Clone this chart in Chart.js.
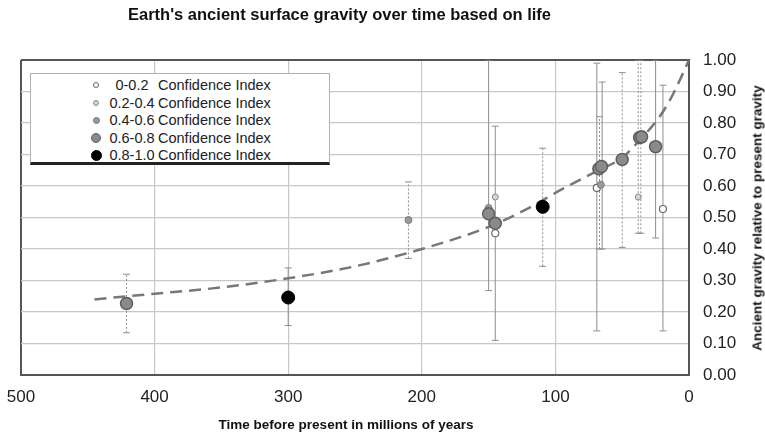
<!DOCTYPE html>
<html>
<head>
<meta charset="utf-8">
<title>Earth's ancient surface gravity</title>
<script src="https://cdn.jsdelivr.net/npm/chart.js@4.4.1/dist/chart.umd.min.js"></script>
<style>
  html, body { margin: 0; padding: 0; background: #fff; }
  #wrap { position: relative; width: 765px; height: 435px; font-family: "Liberation Sans", Arial, sans-serif; color: #111; }
  #title { position: absolute; left: 128px; top: 5px; font-size: 16.5px; font-weight: bold; white-space: nowrap; }
  #xtitle { position: absolute; left: 346px; top: 424px; transform: translate(-50%, -50%); font-size: 13.5px; font-weight: bold; white-space: nowrap; }
  #ytitle { position: absolute; left: 757px; top: 218px; transform: translate(-50%, -50%) rotate(-90deg); font-size: 13.5px; font-weight: bold; white-space: nowrap; }
  #legend { position: absolute; left: 30px; top: 73px; width: 300px; height: 92px; background: #fff; border: 1px solid #b0b0b0; border-bottom: 3px solid #222; box-sizing: border-box; }
  .row { position: absolute; left: 0; height: 18px; line-height: 18px; font-size: 14.5px; color: #222; white-space: nowrap; }
  .dot { position: absolute; border-radius: 50%; box-sizing: border-box; }
  .range { position: absolute; left: 76px; width: 50px; text-align: center; }
  .ci { position: absolute; left: 127px; }
</style>
</head>
<body>
<div id="wrap">
  <canvas id="chart" width="765" height="435"></canvas>
  <div id="title">Earth's ancient surface gravity over time based on life</div>
  <div id="xtitle">Time before present in millions of years</div>
  <div id="ytitle">Ancient gravity relative to present gravity</div>
  <div id="legend"></div>
</div>
<script>
// confidence classes
const confLabels = ["0-0.2", "0.2-0.4", "0.4-0.6", "0.6-0.8", "0.8-1.0"];

// points per confidence class (age in Ma, gravity relative to today)
const agesCI1 = [145, 69, 19.5];
const gravCI1 = [0.45, 0.594, 0.527];
const agesCI2 = [145, 38];
const gravCI2 = [0.565, 0.565];
const agesCI3 = [210, 150, 66];
const gravCI3 = [0.492, 0.53, 0.604];
const agesCI4 = [421, 150, 145, 67.5, 65.5, 50, 37, 35.5, 25];
const gravCI4 = [0.227, 0.512, 0.482, 0.655, 0.662, 0.684, 0.754, 0.756, 0.725];
const agesCI5 = [300, 109.5];
const gravCI5 = [0.246, 0.534];

// error bars
const errAges = [421, 300, 210, 150, 145, 109.5, 69, 67, 65, 50, 38, 36, 25, 19.5];
const errLow = [0.134, 0.157, 0.37, 0.268, 0.11, 0.345, 0.14, 0.40, 0.40, 0.405, 0.45, 0.45, 0.435, 0.14];
const errHigh = [0.32, 0.34, 0.613, 1.0, 0.79, 0.72, 0.99, 0.82, 0.93, 0.96, 1.0, 1.0, 1.0, 0.92];
const errDotted = [true, false, true, false, false, true, false, true, false, true, true, true, false, false];

// dashed trend curve
const trendAges = [445, 400, 350, 300, 250, 200, 150, 120, 95, 70, 50, 37, 22, 14, 7, 0];
const trendGrav = [0.24, 0.258, 0.278, 0.307, 0.345, 0.40, 0.47, 0.53, 0.59, 0.645, 0.69, 0.745, 0.82, 0.875, 0.935, 1.0];

// axis ticks
const ageTicks = [500, 400, 300, 200, 100, 0];
const gravTicks = [0, 0.1, 0.2, 0.3, 0.4, 0.5, 0.6, 0.7, 0.8, 0.9, 1.0];

const classAges = [agesCI1, agesCI2, agesCI3, agesCI4, agesCI5];
const classGrav = [gravCI1, gravCI2, gravCI3, gravCI4, gravCI5];

const markers = [
  { r: 3.5, fill: "#ffffff", stroke: "#666666", w: 1.2, lr: 3 },
  { r: 3, fill: "#d6d6d6", stroke: "#8a8a8a", w: 1, lr: 3 },
  { r: 3.5, fill: "#9a9a9a", stroke: "#7a7a7a", w: 1, lr: 3.5 },
  { r: 6, fill: "#8a8a8a", stroke: "#5e5e5e", w: 1.5, lr: 5 },
  { r: 6.5, fill: "#000000", stroke: "#000000", w: 1, lr: 5.5 },
];

const toXY = (xs, ys) => xs.map((x, i) => ({ x, y: ys[i] }));

const datasets = [];

errAges.forEach((age, i) => {
  datasets.push({
    type: "scatter",
    data: [{ x: age, y: errLow[i] }, { x: age, y: errHigh[i] }],
    showLine: true,
    borderColor: "#8e8e8e",
    borderWidth: 1,
    borderDash: errDotted[i] ? [2, 2] : [],
    pointStyle: "line",
    pointRadius: 3.5,
    pointBorderColor: "#8e8e8e",
    pointBorderWidth: 1,
    order: 10,
  });
});

datasets.push({
  type: "scatter",
  data: toXY(trendAges, trendGrav),
  showLine: true,
  borderColor: "#777777",
  borderWidth: 2.5,
  borderDash: [12, 7],
  cubicInterpolationMode: "monotone",
  pointRadius: 0,
  order: 5,
});

classAges.forEach((ages, k) => {
  const m = markers[k];
  datasets.push({
    type: "scatter",
    label: confLabels[k] + " Confidence Index",
    data: toXY(ages, classGrav[k]),
    pointRadius: m.r,
    backgroundColor: m.fill,
    borderColor: m.stroke,
    borderWidth: m.w,
    order: 4 - k,
  });
});

const frame = "#555555";
const grid = "#c8c8c8";

new Chart(document.getElementById("chart"), {
  type: "scatter",
  data: { datasets },
  options: {
    responsive: false,
    animation: false,
    layout: { padding: { left: 21, top: 60, right: 0, bottom: 0 } },
    plugins: {
      legend: { display: false },
      tooltip: { enabled: false },
    },
    scales: {
      x: {
        type: "linear",
        reverse: true,
        min: 0,
        max: 500,
        afterFit: (s) => {
          s.height = 60;
          s.paddingLeft = 0;
          s.paddingRight = 0;
        },
        afterBuildTicks: (s) => { s.ticks = ageTicks.map((v) => ({ value: v })); },
        ticks: {
          color: "#222",
          font: { family: "Liberation Sans", size: 17 },
          padding: 12,
          maxRotation: 0,
          autoSkip: false,
        },
        grid: {
          drawTicks: false,
          color: (c) => (c.tick && c.tick.value === 500 ? frame : grid),
          lineWidth: (c) => (c.tick && c.tick.value === 500 ? 2 : 1.2),
        },
        border: { color: frame, width: 2 },
      },
      y: {
        position: "right",
        min: 0,
        max: 1,
        afterFit: (s) => { s.width = 76; },
        afterBuildTicks: (s) => { s.ticks = gravTicks.map((v) => ({ value: v })); },
        ticks: {
          color: "#222",
          font: { family: "Liberation Sans", size: 17 },
          padding: 14,
          callback: (v) => Number(v).toFixed(2),
        },
        grid: {
          drawTicks: false,
          color: (c) => (c.tick && Math.abs(c.tick.value - 1) < 1e-9 ? frame : grid),
          lineWidth: (c) => (c.tick && Math.abs(c.tick.value - 1) < 1e-9 ? 2 : 1.2),
        },
        border: { color: frame, width: 2 },
      },
    },
  },
});

// legend box
const legend = document.getElementById("legend");
confLabels.forEach((label, k) => {
  const m = markers[k];
  const row = document.createElement("div");
  row.className = "row";
  row.style.top = (2 + k * 17.5) + "px";
  row.style.width = "100%";
  const dot = document.createElement("span");
  dot.className = "dot";
  const d = m.lr * 2;
  dot.style.width = d + "px";
  dot.style.height = d + "px";
  dot.style.left = (65 - m.lr) + "px";
  dot.style.top = (9 - m.lr) + "px";
  dot.style.background = m.fill;
  dot.style.border = m.w + "px solid " + m.stroke;
  const range = document.createElement("span");
  range.className = "range";
  range.textContent = label;
  const ci = document.createElement("span");
  ci.className = "ci";
  ci.textContent = "Confidence Index";
  row.appendChild(dot);
  row.appendChild(range);
  row.appendChild(ci);
  legend.appendChild(row);
});
</script>
</body>
</html>
